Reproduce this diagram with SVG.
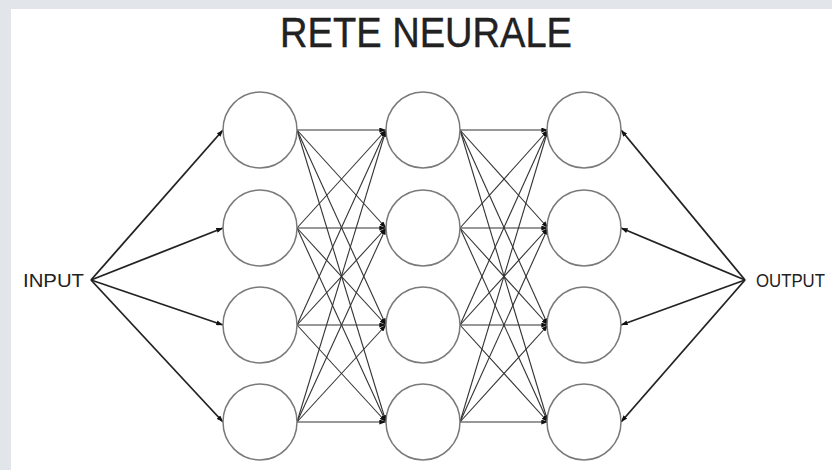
<svg xmlns="http://www.w3.org/2000/svg" width="832" height="470" viewBox="0 0 832 470">
<style>
.node{fill:#fff;stroke:#7a7a7a;stroke-width:1.5}
.in{stroke:#222;stroke-width:1.8;fill:none}
.hid{stroke:#333;stroke-width:1.1;fill:none}
.lbl{font-family:"Liberation Sans",Arial,sans-serif;fill:#222}
</style>
<defs>
<marker id="ah" viewBox="0 0 8 6" refX="8" refY="3" markerWidth="7" markerHeight="5" markerUnits="userSpaceOnUse" orient="auto">
<path d="M0,0 L8,3 L0,6 z" fill="#111"/>
</marker>
</defs>
<rect x="0" y="0" width="832" height="470" fill="#fff"/>
<rect x="0" y="0" width="832" height="9" fill="#e2e6ea"/>
<rect x="0" y="0" width="11" height="470" fill="#e2e6ea"/>
<text class="lbl" x="280" y="47" font-size="42" textLength="292" lengthAdjust="spacingAndGlyphs" fill="#1a1a1a" stroke="#1a1a1a" stroke-width="0.4">RETE NEURALE</text>
<text class="lbl" id="input-label" x="23" y="287" font-size="19" textLength="61" lengthAdjust="spacingAndGlyphs">INPUT</text>
<text class="lbl" id="output-label" x="756" y="287" font-size="18" textLength="69" lengthAdjust="spacingAndGlyphs">OUTPUT</text>
<g id="connectors">
<line class="in" x1="91" y1="280" x2="223" y2="130" marker-end="url(#ah)"/>
<line class="in" x1="91" y1="280" x2="223" y2="228" marker-end="url(#ah)"/>
<line class="in" x1="91" y1="280" x2="223" y2="325" marker-end="url(#ah)"/>
<line class="in" x1="91" y1="280" x2="223" y2="422" marker-end="url(#ah)"/>
<line class="hid" x1="297" y1="130" x2="386" y2="130" marker-end="url(#ah)"/>
<line class="hid" x1="297" y1="130" x2="386" y2="228" marker-end="url(#ah)"/>
<line class="hid" x1="297" y1="130" x2="386" y2="325" marker-end="url(#ah)"/>
<line class="hid" x1="297" y1="130" x2="386" y2="422" marker-end="url(#ah)"/>
<line class="hid" x1="297" y1="228" x2="386" y2="130" marker-end="url(#ah)"/>
<line class="hid" x1="297" y1="228" x2="386" y2="228" marker-end="url(#ah)"/>
<line class="hid" x1="297" y1="228" x2="386" y2="325" marker-end="url(#ah)"/>
<line class="hid" x1="297" y1="228" x2="386" y2="422" marker-end="url(#ah)"/>
<line class="hid" x1="297" y1="325" x2="386" y2="130" marker-end="url(#ah)"/>
<line class="hid" x1="297" y1="325" x2="386" y2="228" marker-end="url(#ah)"/>
<line class="hid" x1="297" y1="325" x2="386" y2="325" marker-end="url(#ah)"/>
<line class="hid" x1="297" y1="325" x2="386" y2="422" marker-end="url(#ah)"/>
<line class="hid" x1="297" y1="422" x2="386" y2="130" marker-end="url(#ah)"/>
<line class="hid" x1="297" y1="422" x2="386" y2="228" marker-end="url(#ah)"/>
<line class="hid" x1="297" y1="422" x2="386" y2="325" marker-end="url(#ah)"/>
<line class="hid" x1="297" y1="422" x2="386" y2="422" marker-end="url(#ah)"/>
<line class="hid" x1="460" y1="130" x2="548" y2="130" marker-end="url(#ah)"/>
<line class="hid" x1="460" y1="130" x2="548" y2="228" marker-end="url(#ah)"/>
<line class="hid" x1="460" y1="130" x2="548" y2="325" marker-end="url(#ah)"/>
<line class="hid" x1="460" y1="130" x2="548" y2="422" marker-end="url(#ah)"/>
<line class="hid" x1="460" y1="228" x2="548" y2="130" marker-end="url(#ah)"/>
<line class="hid" x1="460" y1="228" x2="548" y2="228" marker-end="url(#ah)"/>
<line class="hid" x1="460" y1="228" x2="548" y2="325" marker-end="url(#ah)"/>
<line class="hid" x1="460" y1="228" x2="548" y2="422" marker-end="url(#ah)"/>
<line class="hid" x1="460" y1="325" x2="548" y2="130" marker-end="url(#ah)"/>
<line class="hid" x1="460" y1="325" x2="548" y2="228" marker-end="url(#ah)"/>
<line class="hid" x1="460" y1="325" x2="548" y2="325" marker-end="url(#ah)"/>
<line class="hid" x1="460" y1="325" x2="548" y2="422" marker-end="url(#ah)"/>
<line class="hid" x1="460" y1="422" x2="548" y2="130" marker-end="url(#ah)"/>
<line class="hid" x1="460" y1="422" x2="548" y2="228" marker-end="url(#ah)"/>
<line class="hid" x1="460" y1="422" x2="548" y2="325" marker-end="url(#ah)"/>
<line class="hid" x1="460" y1="422" x2="548" y2="422" marker-end="url(#ah)"/>
<line class="in" x1="745" y1="280" x2="621" y2="130" marker-end="url(#ah)"/>
<line class="in" x1="745" y1="280" x2="621" y2="228" marker-end="url(#ah)"/>
<line class="in" x1="745" y1="280" x2="621" y2="325" marker-end="url(#ah)"/>
<line class="in" x1="745" y1="280" x2="621" y2="422" marker-end="url(#ah)"/>
</g>
<g id="n11"><ellipse class="node" cx="260" cy="130" rx="37" ry="38"/></g>
<g id="n12"><ellipse class="node" cx="260" cy="228" rx="37" ry="38"/></g>
<g id="n13"><ellipse class="node" cx="260" cy="325" rx="37" ry="38"/></g>
<g id="n14"><ellipse class="node" cx="260" cy="422" rx="37" ry="38"/></g>
<g id="n21"><ellipse class="node" cx="423" cy="130" rx="37" ry="38"/></g>
<g id="n22"><ellipse class="node" cx="423" cy="228" rx="37" ry="38"/></g>
<g id="n23"><ellipse class="node" cx="423" cy="325" rx="37" ry="38"/></g>
<g id="n24"><ellipse class="node" cx="423" cy="422" rx="37" ry="38"/></g>
<g id="n31"><ellipse class="node" cx="584" cy="130" rx="37" ry="38"/></g>
<g id="n32"><ellipse class="node" cx="584" cy="228" rx="37" ry="38"/></g>
<g id="n33"><ellipse class="node" cx="584" cy="325" rx="37" ry="38"/></g>
<g id="n34"><ellipse class="node" cx="584" cy="422" rx="37" ry="38"/></g>
</svg>
